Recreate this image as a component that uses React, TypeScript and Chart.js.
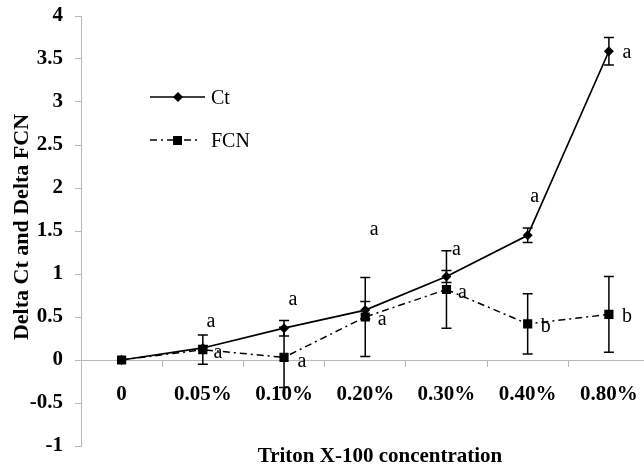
import React, { useEffect, useRef } from 'react';
import { Chart, registerables } from 'chart.js';

Chart.register(...registerables);

const categories = ['0', '0.05%', '0.10%', '0.20%', '0.30%', '0.40%', '0.80%'];
const ctValues = [0, 0.14, 0.37, 0.58, 0.97, 1.45, 3.59];
const ctErrors = [0, 0.03, 0.09, 0.1, 0.07, 0.085, 0.16];
const fcnValues = [0, 0.12, 0.03, 0.5, 0.82, 0.42, 0.53];
const fcnErrors = [0, 0.17, 0.35, 0.46, 0.45, 0.35, 0.44];
const ctLetters = ['', 'a', 'a', 'a', 'a', 'a', 'a'];
const fcnLetters = ['', 'a', 'a', 'a', 'a', 'b', 'b'];
const ctLetterValues = [null, 0.44, 0.69, 1.51, 1.27, 1.89, 3.56];
const fcnLetterValues = [null, 0.08, -0.03, 0.46, 0.77, 0.38, 0.49];

const xTitle = 'Triton X-100 concentration';
const yTitle = 'Delta Ct and Delta FCN';

const SERIF = '"Liberation Serif", "Times New Roman", serif';
const AXIS_GRAY = '#b8b8b8';
const FCN_DASH = [7, 4, 2, 4];
const ctLetterDx = [0, 8, 9, 9, 10, 7, 18];
const fcnLetterDx = [0, 15, 18, 17, 16, 18, 18];

const extrasPlugin = {
  id: 'extras',
  beforeDatasetsDraw(chart: any) {
    const { ctx, scales } = chart;
    const x = scales.x;
    const y = scales.y;
    const drawBars = (vals: number[], errs: number[]) => {
      ctx.save();
      ctx.strokeStyle = '#000';
      ctx.lineWidth = 1.5;
      vals.forEach((v, i) => {
        const e = errs[i];
        if (!e) return;
        const px = x.getPixelForValue(i);
        const top = y.getPixelForValue(v + e);
        const bot = y.getPixelForValue(v - e);
        ctx.beginPath();
        ctx.moveTo(px, top);
        ctx.lineTo(px, bot);
        ctx.moveTo(px - 5, top);
        ctx.lineTo(px + 5, top);
        ctx.moveTo(px - 5, bot);
        ctx.lineTo(px + 5, bot);
        ctx.stroke();
      });
      ctx.restore();
    };
    drawBars(fcnValues, fcnErrors);
    drawBars(ctValues, ctErrors);
  },
  afterDraw(chart: any) {
    const { ctx, scales } = chart;
    const x = scales.x;
    const y = scales.y;
    ctx.save();
    ctx.fillStyle = '#000';
    ctx.font = `20px ${SERIF}`;
    ctx.textAlign = 'center';
    ctx.textBaseline = 'alphabetic';
    const drawLetters = (letters: string[], vals: (number | null)[], dxs: number[]) => {
      letters.forEach((t, i) => {
        const v = vals[i];
        if (!t || v === null) return;
        ctx.fillText(t, x.getPixelForValue(i) + dxs[i], y.getPixelForValue(v) + 4.5);
      });
    };
    drawLetters(ctLetters, ctLetterValues, ctLetterDx);
    drawLetters(fcnLetters, fcnLetterValues, fcnLetterDx);

    // legend
    ctx.strokeStyle = '#000';
    ctx.lineWidth = 1.5;
    ctx.beginPath();
    ctx.moveTo(150, 97);
    ctx.lineTo(205, 97);
    ctx.stroke();
    ctx.beginPath();
    ctx.moveTo(178, 92);
    ctx.lineTo(183, 97);
    ctx.lineTo(178, 102);
    ctx.lineTo(173, 97);
    ctx.closePath();
    ctx.fill();
    ctx.setLineDash(FCN_DASH);
    ctx.beginPath();
    ctx.moveTo(150, 140);
    ctx.lineTo(201, 140);
    ctx.stroke();
    ctx.setLineDash([]);
    ctx.fillRect(173, 136, 9, 9);
    ctx.textAlign = 'left';
    ctx.fillText(chart.data.datasets[0].label, 211, 104);
    ctx.fillText(chart.data.datasets[1].label, 211, 147);

    // axis titles
    ctx.font = `bold 21px ${SERIF}`;
    ctx.textAlign = 'center';
    ctx.fillText(xTitle, 380, 462);
    ctx.save();
    ctx.translate(28, 227);
    ctx.rotate(-Math.PI / 2);
    ctx.font = `bold 22px ${SERIF}`;
    ctx.fillText(yTitle, 0, 0);
    ctx.restore();
    ctx.restore();
  },
};

export default function App() {
  const ref = useRef<HTMLCanvasElement | null>(null);
  useEffect(() => {
    if (!ref.current) return;
    const chart = new Chart(ref.current, {
      type: 'line',
      data: {
        labels: categories,
        datasets: [
          {
            label: 'Ct',
            data: ctValues,
            borderColor: '#000',
            backgroundColor: '#000',
            borderWidth: 1.7,
            pointStyle: 'rectRot',
            pointRadius: 5,
            pointBorderWidth: 0,
            tension: 0,
            order: 1,
          },
          {
            label: 'FCN',
            data: fcnValues,
            borderColor: '#000',
            backgroundColor: '#000',
            borderWidth: 1.5,
            borderDash: FCN_DASH,
            pointStyle: 'rect',
            pointRadius: 6.5,
            pointBorderWidth: 0,
            tension: 0,
            order: 2,
          },
        ],
      },
      options: {
        responsive: false,
        animation: false,
        events: [],
        layout: { padding: { top: 16, bottom: 24, left: 0, right: 2 } },
        plugins: { legend: { display: false }, tooltip: { enabled: false } },
        scales: {
          x: {
            type: 'category',
            offset: true,
            position: { y: 0 },
            afterFit: (s: any) => {
              s.height = 0;
              s.paddingTop = 0;
              s.paddingBottom = 0;
            },
            grid: {
              offset: true,
              drawOnChartArea: false,
              drawTicks: true,
              tickLength: 6,
              color: AXIS_GRAY,
            },
            border: { display: true, color: AXIS_GRAY, width: 1 },
            ticks: {
              color: '#000',
              font: { family: SERIF, size: 21, weight: 'bold' },
              padding: 16,
              maxRotation: 0,
              autoSkip: false,
            },
          },
          y: {
            type: 'linear',
            min: -1,
            max: 4,
            afterFit: (s: any) => {
              s.width = 81;
              s.paddingTop = 0;
              s.paddingBottom = 0;
            },
            grid: {
              drawOnChartArea: false,
              drawTicks: true,
              tickLength: 6,
              color: AXIS_GRAY,
            },
            border: { display: true, color: AXIS_GRAY, width: 1 },
            ticks: {
              stepSize: 0.5,
              color: '#000',
              font: { family: SERIF, size: 21, weight: 'bold' },
              padding: 12,
              callback: (v: any) => String(v),
            },
          },
        },
      },
      plugins: [extrasPlugin],
    });
    return () => chart.destroy();
  }, []);
  return (
    <div style={{ position: 'fixed', left: 0, top: 0, width: 644, height: 470, overflow: 'hidden', background: '#fff' }}>
      <canvas ref={ref} width={656} height={470} style={{ display: 'block' }} />
    </div>
  );
}
